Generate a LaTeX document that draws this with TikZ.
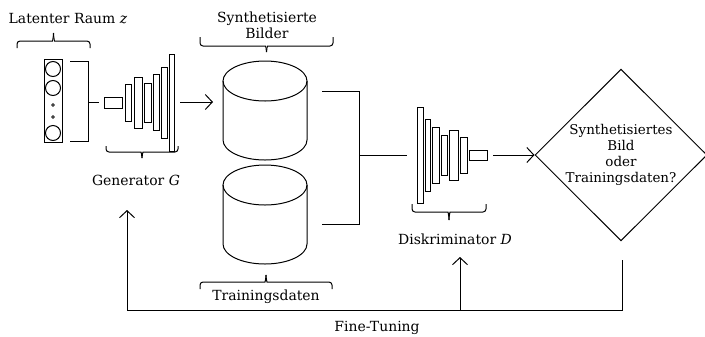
\documentclass[tikz,border=0pt]{standalone}
\usepackage{fontspec}
\setmainfont{DejaVu Serif}
\usetikzlibrary{arrows.meta,shapes.geometric}
\tikzset{
  lay/.style={draw, fill=white, inner sep=0pt},
  arr/.style={-{Straight Barb[length=7bp,width=15bp]}},
  lbl/.style={inner sep=0pt, align=center, font=\fontsize{14}{16}\selectfont},
}
% #1 left x, #2 right x, #3 base y (ends), #4 bar y, #5 tip y
\newcommand\hbrc[5]{%
  \draw[rounded corners=3bp] (#1,#3) -- (#1,#4) -- ({(#1+#2)/2-4},#4) [sharp corners] .. controls ({(#1+#2)/2-1},#4) and ({(#1+#2)/2},{(#4+#5)/2}) .. ({(#1+#2)/2},#5);
  \draw[rounded corners=3bp] (#2,#3) -- (#2,#4) -- ({(#1+#2)/2+4},#4) [sharp corners] .. controls ({(#1+#2)/2+1},#4) and ({(#1+#2)/2},{(#4+#5)/2}) .. ({(#1+#2)/2},#5);
}
\begin{document}
\begin{tikzpicture}[x=1bp, y=-1bp, line width=1bp]
\useasboundingbox (0,0) rectangle (705,336);
% latent vector
\node[draw, inner sep=0pt, minimum width=18bp, minimum height=83bp] (lat) at (53,100.5) {};
\node[draw, circle, inner sep=0pt, minimum size=15bp] (lc1) at (53,69) {};
\node[draw, circle, inner sep=0pt, minimum size=15bp] (lc2) at (53,88) {};
\node[draw, circle, inner sep=0pt, minimum size=15bp] (lc3) at (53,133) {};
\node[draw, circle, inner sep=0pt, minimum size=2.6bp, line width=0.7bp] (ld1) at (53,105) {};
\node[draw, circle, inner sep=0pt, minimum size=2.6bp, line width=0.7bp] (ld2) at (53,117) {};
\draw (70,61) -- (88,61) -- (88,141) -- (70,141);
\coordinate (brk) at (88,102);
\coordinate (brkE) at (99,102);
\draw (brk) -- (brkE);
\hbrc{17}{90}{48}{41}{33}
\node[lbl] (latlbl) at (68,19) {Latenter Raum \textit{z}};
% generator
\node[lay, minimum width=18bp, minimum height=11bp] (g0) at (113,102.5) {};
\node[lay, minimum width=6bp, minimum height=37bp] (g1) at (128,102.5) {};
\node[lay, minimum width=8bp, minimum height=51bp] (g2) at (138,102.5) {};
\node[lay, minimum width=7bp, minimum height=39bp] (g3) at (147.5,102.5) {};
\node[lay, minimum width=6bp, minimum height=56bp] (g4) at (156,102.5) {};
\node[lay, minimum width=6bp, minimum height=71bp] (g5) at (164,102.5) {};
\node[lay, minimum width=5bp, minimum height=97bp] (g6) at (171.5,102.5) {};
\hbrc{106}{178}{146}{152}{158}
\node[lbl] (genlbl) at (136,180) {Generator \textit{G}};
% cylinders
\draw (223,81) -- (223,140) arc[start angle=180, end angle=360, x radius=42bp, y radius=20bp] -- (307,81);
\draw (265,81) ellipse [x radius=42bp, y radius=20bp];
\node[inner sep=0pt, minimum width=84bp, minimum height=99bp] (cyl1) at (265,110.5) {};
\draw (223,185) -- (223,244) arc[start angle=180, end angle=360, x radius=42bp, y radius=20bp] -- (307,185);
\draw (265,185) ellipse [x radius=42bp, y radius=20bp];
\node[inner sep=0pt, minimum width=84bp, minimum height=99bp] (cyl2) at (265,214.5) {};
\hbrc{200}{333}{37}{46}{52}
\node[lbl] (synlbl) at (267,25.5) {Synthetisierte\\Bilder};
\hbrc{200}{332}{289}{282}{275}
\node[lbl] (trlbl) at (266,297) {Trainingsdaten};
\coordinate (gout) at (180,102);
\coordinate (c1in) at (213,102);
\draw[arr] (gout) -- (c1in);
% merge lines
\coordinate (c1out) at (322,91);
\coordinate (c2out) at (322,224);
\coordinate (jn) at (359,155);
\coordinate (din) at (407,155);
\draw (c1out) -| (jn);
\draw (c2out) -| (jn);
\draw (jn) -- (din);
% discriminator
\node[lay, minimum width=6bp, minimum height=96bp] (d1) at (420,155) {};
\node[lay, minimum width=5bp, minimum height=72bp] (d2) at (427.5,155) {};
\node[lay, minimum width=7bp, minimum height=56bp] (d3) at (435.5,155) {};
\node[lay, minimum width=6bp, minimum height=40bp] (d4) at (444,155) {};
\node[lay, minimum width=9bp, minimum height=50bp] (d5) at (453.5,155) {};
\node[lay, minimum width=7bp, minimum height=36bp] (d6) at (463.5,155) {};
\node[lay, minimum width=18bp, minimum height=10bp] (d0) at (478,155) {};
\hbrc{412}{486}{204}{212}{220}
\node[lbl] (dislbl) at (455,239) {Diskriminator \textit{D}};
% decision
\node[draw, diamond, aspect=1, inner sep=0pt, minimum width=172bp, minimum height=170bp, align=center, font=\fontsize{13.5}{16}\selectfont] (dec) at (621,155) {Synthetisiertes\\Bild\\oder\\Trainingsdaten?};
\coordinate (dout) at (493,155);
\draw[arr] (dout) -- (dec.west);
% feedback
\coordinate (fb0) at (622,260);
\coordinate (fbR) at (622,310);
\coordinate (fbL) at (127,310);
\coordinate (genUp) at (127,210);
\coordinate (fbM) at (460,310);
\coordinate (disUp) at (460,257);
\draw[arr] (fb0) -- (fbR) -- (fbL) -- (genUp);
\draw[arr] (fbM) -- (disUp);
\node[lbl] (ftlbl) at (377,328) {Fine-Tuning};
\end{tikzpicture}
\end{document}
